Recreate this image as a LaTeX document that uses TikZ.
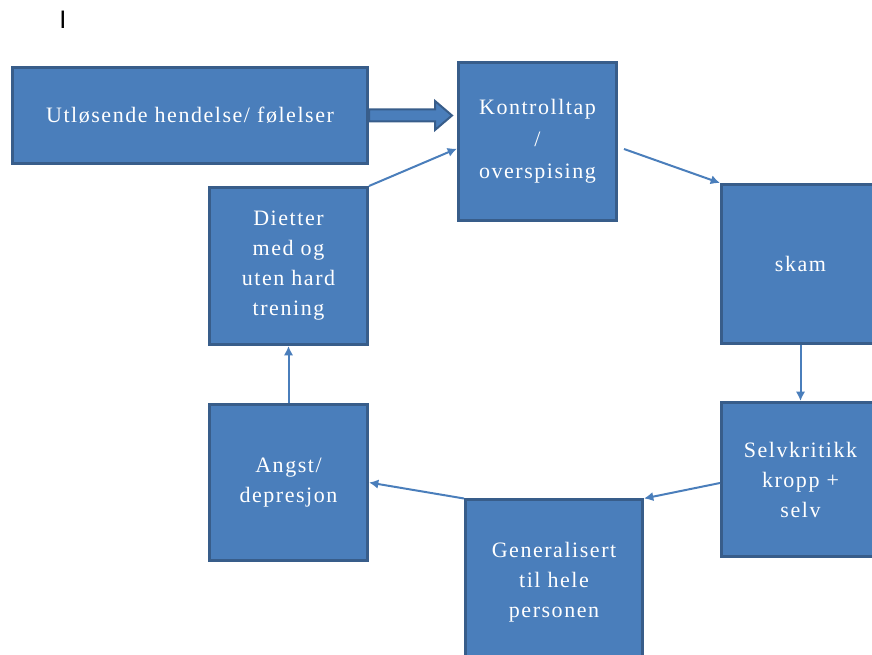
\documentclass[tikz,border=0pt]{standalone}
\usepackage{fontspec}
\setmainfont{Liberation Serif}[LetterSpace=7]
\newfontfamily\markorfont{Liberation Sans}
\usetikzlibrary{arrows.meta,calc}

\definecolor{boxfill}{RGB}{74,126,187}
\definecolor{boxline}{RGB}{56,93,138}

\tikzset{
  flowbox/.style={draw=boxline, fill=boxfill, line width=2.25pt, text=white, align=center, inner sep=0pt, font=\fontsize{16.5}{22.5}\selectfont},
  cycleline/.style={draw=boxfill, line width=1.5pt, -{Latex[length=7pt,width=7pt]}},
  fatarrow/.style={draw=boxline, fill=boxfill, line width=1.5pt, line join=miter}
}

\begin{document}
\begin{tikzpicture}[x=0.75pt,y=0.75pt,yscale=-1,xscale=1]
                \useasboundingbox (0,0) rectangle (872,655);
                \clip (0,0) rectangle (872,655);

                %Shape: Rectangle [utlosende]
                \node [flowbox, minimum width=266.25pt, minimum height=72pt] (utlosende) at (190,115.5) {Utløsende hendelse/ følelser};
                %Shape: Rectangle [kontroll]
                \node [flowbox, minimum width=118.5pt, minimum height=118.5pt, font=\fontsize{16.5}{24}\selectfont] (kontroll) at (537.5,141.5) {Kontrolltap\\/\\overspising};
                %Shape: Rectangle [skam]
                \node [flowbox, minimum width=118.5pt, minimum height=119.25pt] (skam) at (800.5,264) {skam};
                %Shape: Rectangle [selv]
                \node [flowbox, minimum width=118.5pt, minimum height=115.5pt] (selv) at (800.5,479.5) {Selvkritikk\\kropp +\\selv};
                %Shape: Rectangle [generalisert]
                \node [flowbox, minimum width=132.75pt, minimum height=123pt] (generalisert) at (554,582) {Generalisert\\til hele\\personen};
                %Shape: Rectangle [angst]
                \node [flowbox, minimum width=118.5pt, minimum height=117pt] (angst) at (288.5,482.5) {Angst/\\depresjon};
                %Shape: Rectangle [dietter]
                \node [flowbox, minimum width=118.5pt, minimum height=117.75pt] (dietter) at (288.5,266) {Dietter\\med og\\uten hard\\trening};

                %Block Arrow
                \draw [fatarrow] ($(utlosende.east)+(0,-6)$) -- ($(kontroll.west |- utlosende.east)+(-22,-6)$) -- ++(0,-8.5) -- ($(kontroll.west |- utlosende.east)+(-5,0)$) -- ($(kontroll.west |- utlosende.east)+(-22,14.5)$) -- ++(0,-8.5) -- ($(utlosende.east)+(0,6)$) -- cycle ;

                %Straight Lines
                \draw [cycleline] ($(kontroll.east)+(6,7.5)$) -- (skam.north west) ;
                %Straight Lines
                \draw [cycleline] (skam.south) -- (selv.north) ;
                %Straight Lines
                \draw [cycleline] ($(selv.west)+(0,3.5)$) -- (generalisert.north east) ;
                %Straight Lines
                \draw [cycleline] (generalisert.north west) -- (angst.east) ;
                %Straight Lines
                \draw [cycleline] (angst.north) -- (dietter.south) ;
                %Straight Lines
                \draw [cycleline] (dietter.north east) -- (kontroll.185) ;

                % Text Node
                \node [inner sep=0pt, font=\markorfont\fontsize{19}{19}\selectfont] (markor) at (63,20) {I};

\end{tikzpicture}
\end{document}
